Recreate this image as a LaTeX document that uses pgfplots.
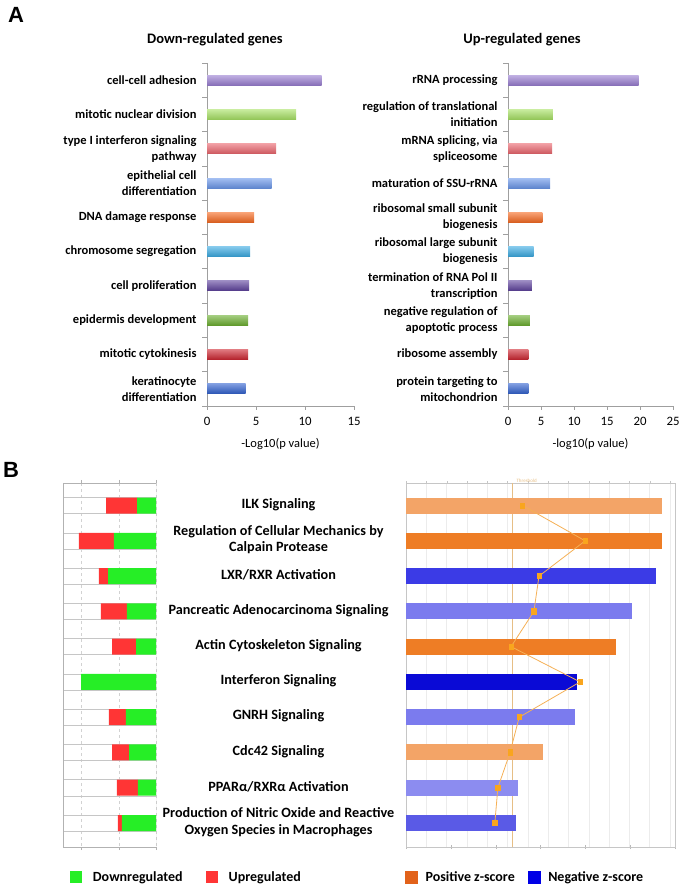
\documentclass[border=0pt]{standalone}
\usepackage{fontspec}
\setmainfont{Carlito}
\newfontfamily\arialfont{Liberation Sans}
\usepackage{pgfplots}
\pgfplotsset{compat=1.18}

\newcommand\fs[2]{\fontsize{#1}{#2}\selectfont}

% GO term bar colours
\definecolor{c1}{HTML}{9A7FD1}
\definecolor{c2}{HTML}{A6E063}
\definecolor{c3}{HTML}{E8636B}
\definecolor{c4}{HTML}{6C98EA}
\definecolor{c5}{HTML}{F56A22}
\definecolor{c6}{HTML}{38A8E0}
\definecolor{c7}{HTML}{5B3F9A}
\definecolor{c8}{HTML}{6DAF32}
\definecolor{c9}{HTML}{CC2530}
\definecolor{c10}{HTML}{2F5FCC}
% IPA colours
\definecolor{upRed}{HTML}{FF3535}
\definecolor{downGreen}{HTML}{26EE26}
\definecolor{zOrangeL}{HTML}{F3A467}
\definecolor{zOrange}{HTML}{EE7D25}
\definecolor{zBlue}{HTML}{3B3BE6}
\definecolor{zBlueL}{HTML}{7B7BEE}
\definecolor{zBlueD}{HTML}{0A0AD6}
\definecolor{zBlueM}{HTML}{5A5AE6}
\definecolor{zBlueLL}{HTML}{8C8CF0}
\definecolor{ratioLine}{HTML}{F5B055}
\definecolor{ratioMark}{HTML}{F9A51E}
\definecolor{thresh}{HTML}{E6BE85}
\definecolor{posZ}{HTML}{E2621A}
\definecolor{negZ}{HTML}{0000E6}

\pgfplotsset{
  goaxis/.style={
    scale only axis, height=343pt,
    ymin=0.5, ymax=10.5, y dir=reverse,
    axis x line*=bottom, axis y line*=left,
    axis line style={gray!75, line width=0.6pt},
    xbar, bar width=10pt, bar shift=0pt,
    ytick={1,...,10}, minor ytick={0.5,1.5,...,10.5},
    major y tick style={draw=none},
    minor y tick style={gray!75, line width=0.6pt},
    major x tick style={gray!75, line width=0.6pt},
    tick align=outside, major tick length=4pt, minor tick length=5pt,
    yticklabel style={align=right, font=\fs{12.5}{16}\bfseries, xshift=-3pt},
    xticklabel style={font=\fs{12.8}{14}, yshift=-4pt},
    xlabel style={font=\fs{12.5}{14}, at={(axis description cs:0.5,0)}, anchor=center, yshift=-38pt},
    /pgf/number format/assume math mode=true,
  },
  gb/.style={draw=none, top color=#1!62!white, bottom color=#1!88!black, forget plot},
  zb/.style={draw=none, fill=#1, forget plot},
}

\begin{document}
\begin{tikzpicture}[x=1pt, y=1pt]
\useasboundingbox (0,0) rectangle (685,893);

\node[font=\fs{22}{22}\arialfont\bfseries] at (16,878) {A};
\node[font=\fs{22}{22}\arialfont\bfseries] at (11,423) {B};
\node[font=\fs{14.5}{16}\bfseries] at (215,853) {Down-regulated genes};
\node[font=\fs{14.5}{16}\bfseries] at (522,853) {Up-regulated genes};

% A, left: down-regulated genes
\begin{axis}[goaxis, at={(207pt,487pt)}, anchor=south west, width=147pt,
  xmin=0, xmax=15, xtick={0,5,10,15},
  xlabel={-Log10(p value)},
  yticklabels={cell-cell adhesion, mitotic nuclear division,
    type I interferon signaling\\pathway, epithelial cell\\differentiation,
    DNA damage response, chromosome segregation, cell proliferation,
    epidermis development, mitotic cytokinesis, keratinocyte\\differentiation}]
\addplot[gb=c1] coordinates {(11.7,1)};
\addplot[gb=c2] coordinates {(9.1,2)};
\addplot[gb=c3] coordinates {(7.05,3)};
\addplot[gb=c4] coordinates {(6.6,4)};
\addplot[gb=c5] coordinates {(4.8,5)};
\addplot[gb=c6] coordinates {(4.4,6)};
\addplot[gb=c7] coordinates {(4.3,7)};
\addplot[gb=c8] coordinates {(4.2,8)};
\addplot[gb=c9] coordinates {(4.2,9)};
\addplot[gb=c10] coordinates {(3.95,10)};
\end{axis}

% A, right: up-regulated genes
\begin{axis}[goaxis, at={(508pt,487pt)}, anchor=south west, width=165pt,
  xmin=0, xmax=25, xtick={0,5,10,15,20,25},
  xlabel={-log10(p value)},
  yticklabels={rRNA processing, regulation of translational\\initiation,
    {mRNA splicing, via\\spliceosome}, maturation of SSU-rRNA,
    ribosomal small subunit\\biogenesis, ribosomal large subunit\\biogenesis,
    termination of RNA Pol II\\transcription, negative regulation of\\apoptotic process,
    ribosome assembly, protein targeting to\\mitochondrion}]
\addplot[gb=c1] coordinates {(19.8,1)};
\addplot[gb=c2] coordinates {(6.8,2)};
\addplot[gb=c3] coordinates {(6.7,3)};
\addplot[gb=c4] coordinates {(6.4,4)};
\addplot[gb=c5] coordinates {(5.2,5)};
\addplot[gb=c6] coordinates {(3.9,6)};
\addplot[gb=c7] coordinates {(3.6,7)};
\addplot[gb=c8] coordinates {(3.3,8)};
\addplot[gb=c9] coordinates {(3.1,9)};
\addplot[gb=c10] coordinates {(3.1,10)};
\end{axis}

% B, left: share of down/up-regulated molecules (%)
\begin{axis}[at={(63pt,46pt)}, anchor=south west, scale only axis,
  width=93pt, height=364pt,
  xmin=0, xmax=100, x dir=reverse,
  ymin=0.36, ymax=10.68, y dir=reverse,
  xbar stacked, bar width=16pt,
  axis x line*=box, axis y line*=none,
  axis line style={gray!60, line width=0.6pt},
  xtick={0,40,80}, xticklabels={}, tick align=outside, major tick length=3pt,
  x tick style={gray!60},
  xmajorgrids, x grid style={dashed, gray!35},
  ytick={0.773,1.227,1.773,2.227,2.773,3.227,3.773,4.227,4.773,5.227,
         5.773,6.227,6.773,7.227,7.773,8.227,8.773,9.227,9.773,10.227},
  yticklabels={}, y tick style={draw=none},
  ymajorgrids, y grid style={solid, gray!45, line width=0.5pt},
  legend columns=2,
  legend style={draw=none, fill=none, at={(0.04,-0.082)}, anchor=west,
    font=\fs{14}{16}\bfseries, nodes={inner sep=0pt},
    /tikz/every odd column/.append style={column sep=11pt},
    /tikz/every even column/.append style={column sep=23pt}}]
\addplot[fill=downGreen, draw=none,
  legend image code/.code={\fill[downGreen] (0pt,-6pt) rectangle (12pt,6pt);}]
  coordinates {(20.4,1) (45.2,2) (51.6,3) (31.2,4) (21.5,5)
               (80.6,6) (32.3,7) (29.0,8) (19.4,9) (36.6,10)};
\addlegendentry{Downregulated}
\addplot[fill=upRed, draw=none,
  legend image code/.code={\fill[upRed] (0pt,-6pt) rectangle (12pt,6pt);}]
  coordinates {(33.3,1) (37.6,2) (9.7,3) (28.0,4) (25.8,5)
               (0,6) (18.3,7) (18.3,8) (22.6,9) (4.3,10)};
\addlegendentry{Upregulated}
\draw[gray!60, line width=0.6pt] (axis cs:0,0.36) -- (axis cs:0,10.68);
\end{axis}

% B, right: ratio grid (background)
\begin{axis}[at={(406pt,46pt)}, anchor=south west, scale only axis,
  width=269pt, height=364pt,
  xmin=0, xmax=0.53, ymin=0.36, ymax=10.68, y dir=reverse,
  axis line style={draw=none},
  xtick={0,0.04,...,0.52}, xticklabels={}, xtick pos=top,
  tick align=center, major tick length=3pt, tick style={gray!45},
  xmajorgrids, grid style={gray!15},
  ytick=\empty]
\end{axis}

% B, right: -log(p) bars, coloured by z-score
\begin{axis}[at={(406pt,46pt)}, anchor=south west, scale only axis,
  width=269pt, height=364pt,
  xmin=0, xmax=6, ymin=0.36, ymax=10.68, y dir=reverse,
  xbar, bar shift=0pt, bar width=16pt,
  axis line style={gray!45, line width=0.5pt},
  xtick={0,...,6}, xticklabels={}, xtick pos=bottom,
  tick align=center, major tick length=4pt, tick style={gray!55},
  ytick={1,...,10}, major y tick style={draw=none},
  yticklabel style={anchor=center, align=center, xshift=-125.5pt, yshift=1pt,
    font=\fs{14.2}{16.5}\bfseries},
  yticklabels={ILK Signaling,
    Regulation of Cellular Mechanics by\\Calpain Protease,
    LXR/RXR Activation, Pancreatic Adenocarcinoma Signaling,
    Actin Cytoskeleton Signaling, Interferon Signaling, GNRH Signaling,
    Cdc42 Signaling, PPARα/RXRα Activation,
    Production of Nitric Oxide and Reactive\\Oxygen Species in Macrophages},
  extra x ticks={2.36}, extra x tick labels={},
  extra x tick style={grid=major, major grid style={thresh, line width=0.5pt},
    major tick length=0pt},
  legend columns=2,
  legend style={draw=none, fill=none, at={(-0.015,-0.082)}, anchor=west,
    font=\fs{14}{16}\bfseries, nodes={inner sep=0pt},
    /tikz/every odd column/.append style={column sep=8pt},
    /tikz/every even column/.append style={column sep=13pt}}]
\addplot[zb=zOrangeL] coordinates {(5.71,1)};
\addplot[zb=zOrange]  coordinates {(5.71,2)};
\addplot[zb=zBlue]    coordinates {(5.58,3)};
\addplot[zb=zBlueL]   coordinates {(5.04,4)};
\addplot[zb=zOrange]  coordinates {(4.69,5)};
\addplot[zb=zBlueD]   coordinates {(3.82,6)};
\addplot[zb=zBlueL]   coordinates {(3.77,7)};
\addplot[zb=zOrangeL] coordinates {(3.06,8)};
\addplot[zb=zBlueLL]  coordinates {(2.50,9)};
\addplot[zb=zBlueM]   coordinates {(2.46,10)};
\addlegendimage{legend image code/.code={\fill[posZ] (0pt,-6pt) rectangle (12pt,6pt);}}
\addlegendentry{Positive z-score}
\addlegendimage{legend image code/.code={\fill[negZ] (0pt,-6pt) rectangle (12pt,6pt);}}
\addlegendentry{Negative z-score}
\end{axis}

% B, right: ratio line
\begin{axis}[at={(406pt,46pt)}, anchor=south west, scale only axis,
  width=269pt, height=364pt, hide axis,
  xmin=0, xmax=0.53, ymin=0.36, ymax=10.68, y dir=reverse]
\addplot[ratioLine, line width=0.8pt, mark=square*, mark size=2.6pt,
  mark options={fill=ratioMark, draw=ratioMark, xscale=0.8}]
  coordinates {(0.230,1) (0.353,2) (0.262,3) (0.252,4) (0.207,5)
               (0.343,6) (0.223,7) (0.205,8) (0.181,9) (0.175,10)};
\end{axis}

\node[font=\fs{5}{6}, text=thresh, anchor=west] at (513,412) {Threshold};
\end{tikzpicture}
\end{document}
